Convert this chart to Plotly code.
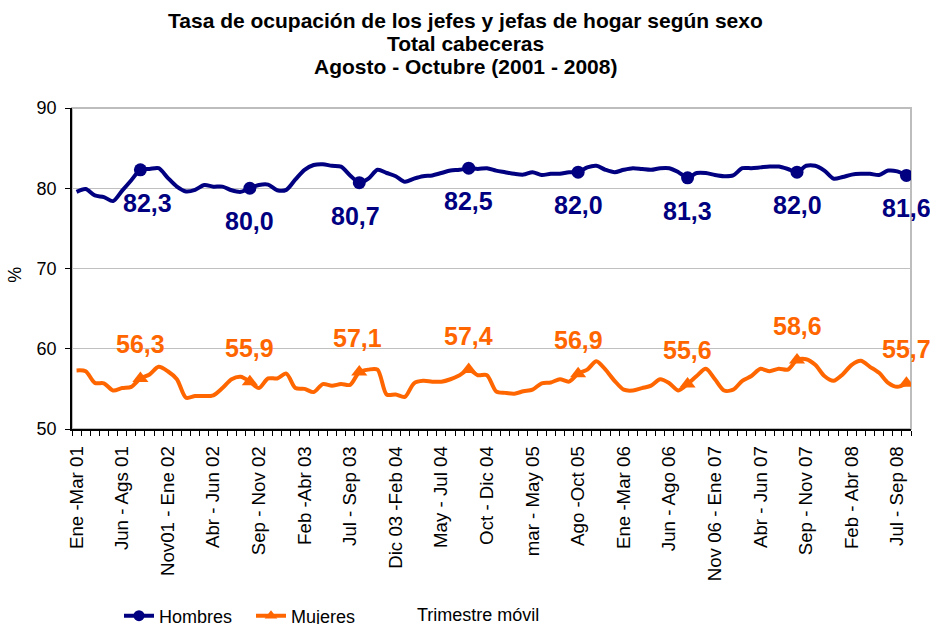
import plotly.graph_objects as go

# ---------------- data ----------------
title_lines = ["Tasa de ocupación de los jefes y jefas de hogar según sexo",
               "Total cabeceras",
               "Agosto - Octubre (2001 - 2008)"]

tick_labels = ["Ene -Mar 01", "Jun - Ags 01", "Nov01 - Ene 02", "Abr - Jun 02", "Sep - Nov 02",
               "Feb -Abr 03", "Jul - Sep 03", "Dic 03 -Feb 04", "May - Jul 04", "Oct - Dic 04",
               "mar - May 05", "Ago -Oct 05", "Ene -Mar 06", "Jun - Ago 06", "Nov 06 - Ene 07",
               "Abr - Jun 07", "Sep - Nov 07", "Feb - Abr 08", "Jul - Sep 08"]

hombres = [79.55, 79.9, 79.1, 78.9, 78.4, 79.7, 81.0, 82.3, 82.4, 82.5,
           81.3, 80.2, 79.6, 79.8, 80.4, 80.2, 80.2, 79.75, 79.55, 80.0,
           80.4, 80.45, 79.75, 79.8, 81.1, 82.3, 82.9, 83.0, 82.8, 82.7,
           81.6, 80.7, 81.2, 82.3, 81.9, 81.5, 80.8, 81.2, 81.5, 81.6,
           81.9, 82.2, 82.3, 82.5, 82.4, 82.5, 82.2, 82.0, 81.8, 81.7,
           82.0, 81.65, 81.8, 81.8, 82.0, 82.0, 82.6, 82.8, 82.3, 82.0,
           82.3, 82.5, 82.4, 82.3, 82.5, 82.5, 82.0, 81.3, 81.9, 81.9,
           81.65, 81.5, 81.6, 82.5, 82.5, 82.6, 82.7, 82.7, 82.4, 82.0,
           82.8, 82.8, 82.2, 81.2, 81.4, 81.7, 81.8, 81.8, 81.65, 82.2,
           82.1, 81.6]

mujeres = [57.3, 57.2, 55.75, 55.7, 54.8, 55.1, 55.25, 56.3, 56.8, 57.75,
           57.2, 56.2, 53.9, 54.1, 54.1, 54.2, 55.1, 56.2, 56.5, 55.9,
           55.1, 56.3, 56.3, 56.9, 55.1, 55.0, 54.6, 55.6, 55.4, 55.6,
           55.5, 57.1, 57.4, 57.4, 54.3, 54.3, 54.0, 55.7, 56.0, 55.9,
           55.9, 56.2, 56.7, 57.4, 56.7, 56.7, 54.7, 54.5, 54.4, 54.7,
           54.9, 55.7, 55.8, 56.2, 55.9, 56.9, 57.4, 58.45, 57.4, 56.0,
           54.9, 54.8, 55.1, 55.4, 56.2, 55.7, 54.8, 55.6, 56.6, 57.5,
           56.2, 54.8, 54.9, 56.0, 56.6, 57.5, 57.2, 57.5, 57.4, 58.6,
           58.7, 58.0, 56.6, 56.0, 56.8, 58.0, 58.5, 57.75, 57.0, 55.75,
           55.25, 55.7]

# Agosto-Octubre of each year (marked points)
marked_idx = [7, 19, 31, 43, 55, 67, 79, 91]

# ---------------- styling ----------------
NAVY = "#000080"
ORANGE = "#FF6600"
FONT = "Liberation Sans, Arial, sans-serif"

n = len(hombres)
x = list(range(n))
tick_idx = list(range(0, n, 5))[:len(tick_labels)]

fig = go.Figure()

for vals, color, sym, name in [(hombres, NAVY, "circle", "Hombres"),
                               (mujeres, ORANGE, "triangle-up", "Mujeres")]:
    fig.add_trace(go.Scatter(x=x, y=vals, mode="lines",
                             line=dict(color=color, width=4, shape="spline", smoothing=0.8),
                             showlegend=False, hoverinfo="skip"))
    fig.add_trace(go.Scatter(x=marked_idx, y=[vals[i] for i in marked_idx], mode="markers",
                             marker=dict(color=color, size=13 if sym == "circle" else 14, symbol=sym),
                             showlegend=False))
    fig.add_trace(go.Scatter(x=[None], y=[None], mode="lines+markers", name=name,
                             line=dict(color=color, width=4),
                             marker=dict(color=color, size=11, symbol=sym)))

annotations = []
h_dx = {7: 7, 31: -4}
m_dx = {31: -2}
for i in marked_idx:
    annotations.append(dict(x=i, y=hombres[i], xref="x", yref="y",
                            text="<b>" + f"{hombres[i]:.1f}".replace(".", ",") + "</b>",
                            showarrow=False, yshift=-33, xshift=h_dx.get(i, 0),
                            font=dict(family=FONT, size=25, color=NAVY)))
    annotations.append(dict(x=i, y=mujeres[i], xref="x", yref="y",
                            text="<b>" + f"{mujeres[i]:.1f}".replace(".", ",") + "</b>",
                            showarrow=False, yshift=34, xshift=m_dx.get(i, 0),
                            font=dict(family=FONT, size=25, color=ORANGE)))

# title lines (pixel centres -> paper coords)
for line, ypix in zip(title_lines, [20.5, 43, 66]):
    annotations.append(dict(text="<b>" + line + "</b>", xref="paper", yref="paper",
                            x=(465 - 72) / 839, y=(429 - ypix) / 321,
                            xanchor="center", yanchor="middle", showarrow=False,
                            font=dict(family=FONT, size=21, color="black")))

annotations.append(dict(text="Trimestre móvil", xref="paper", yref="paper",
                        x=0.484, y=-0.58, xanchor="center", yanchor="middle", showarrow=False,
                        font=dict(family=FONT, size=18, color="black")))
annotations.append(dict(text="%", xref="paper", yref="paper", x=-0.068, y=0.48,
                        textangle=-90, showarrow=False, xanchor="center", yanchor="middle",
                        font=dict(family=FONT, size=18, color="black")))

fig.update_layout(
    width=930, height=624,
    margin=dict(l=72, r=19, t=108, b=195, autoexpand=False),
    paper_bgcolor="white", plot_bgcolor="white",
    font=dict(family=FONT, color="black"),
    showlegend=True,
    legend=dict(orientation="h", xref="container", yref="container",
                x=119 / 930, y=8 / 624, xanchor="left", yanchor="middle",
                font=dict(family=FONT, size=18, color="black"),
                bgcolor="rgba(0,0,0,0)", itemwidth=30, entrywidth=87, tracegroupgap=0),
    annotations=annotations,
    shapes=[dict(type="rect", xref="paper", yref="paper", x0=0, x1=1, y0=0, y1=1,
                 line=dict(color="#bdbdbd", width=2), layer="below")],
)

fig.update_xaxes(
    range=[-0.5, n - 0.5], automargin=False,
    tickmode="array", tickvals=tick_idx, ticktext=tick_labels,
    tickangle=-90, ticks="", showgrid=False, zeroline=False,
    showline=True, linecolor="black", linewidth=1.5,
    ticklabelstandoff=8,
    tickfont=dict(family=FONT, size=18.7, color="black"),
    minor=dict(tickmode="array", tickvals=[k - 0.5 for k in range(n + 1)],
               ticks="outside", ticklen=5, tickcolor="black", tickwidth=1, showgrid=False),
)
fig.update_yaxes(
    range=[50, 90], dtick=10, tick0=50, automargin=False,
    showgrid=True, gridcolor="#c0c0c0", gridwidth=1, zeroline=False,
    showline=True, linecolor="black", linewidth=1.5,
    ticks="outside", ticklen=5, tickcolor="black", ticklabelstandoff=5,
    tickfont=dict(family=FONT, size=18, color="black"),
)

fig.write_html("out.html", config={"displayModeBar": False},
               post_script="document.body.style.margin='0px';"
                           "document.body.style.overflow='hidden';")
